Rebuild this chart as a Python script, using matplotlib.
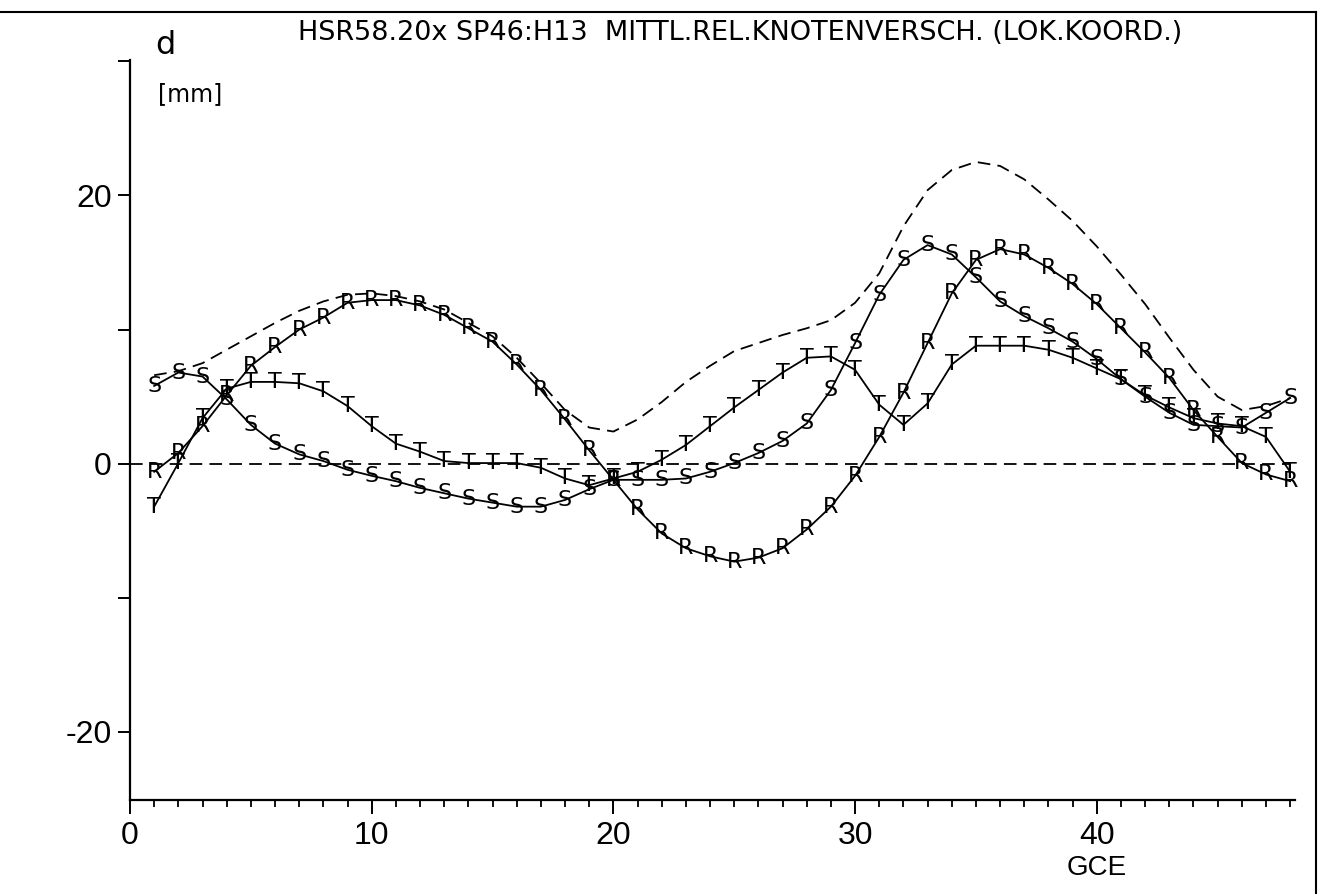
import numpy as np
import matplotlib.pyplot as plt
from matplotlib.lines import Line2D
from matplotlib.ticker import MultipleLocator, FixedLocator

plt.rcParams["axes.unicode_minus"] = False

# GCE-Nummer (Knoten)
gce = list(range(1, 49))

# Verschiebungen R, S, T [mm]
r_vals = [-0.6, 0.8, 2.8, 5.1, 7.3, 8.7, 10.0, 10.9, 12.0, 12.2, 12.2, 11.8,
          11.1, 10.1, 9.1, 7.4, 5.5, 3.3, 1.0, -1.2, -3.4, -5.2, -6.3, -6.9,
          -7.3, -7.0, -6.3, -4.9, -3.2, -0.9, 2.0, 5.3, 9.0, 12.7, 15.2, 16.0,
          15.6, 14.6, 13.4, 11.9, 10.1, 8.3, 6.4, 4.0, 2.0, 0.05, -0.8, -1.3]
s_vals = [5.8, 6.8, 6.5, 4.8, 2.9, 1.5, 0.7, 0.2, -0.45, -0.9, -1.3, -1.8,
          -2.2, -2.6, -2.9, -3.2, -3.2, -2.7, -1.9, -1.2, -1.2, -1.2, -1.1, -0.6,
          0.05, 0.8, 1.7, 3.0, 5.5, 9.0, 12.6, 15.2, 16.3, 15.6, 13.9, 12.1,
          11.0, 10.1, 9.1, 7.8, 6.3, 5.0, 3.8, 2.9, 2.8, 2.7, 3.8, 4.9]
t_vals = [-3.2, 0.05, 3.4, 5.6, 6.1, 6.1, 6.0, 5.4, 4.3, 2.8, 1.5, 0.9,
          0.2, 0.05, 0.05, 0.05, -0.3, -1.1, -1.6, -1.1, -0.6, 0.3, 1.4, 2.8,
          4.2, 5.5, 6.8, 7.9, 8.0, 7.0, 4.4, 2.9, 4.5, 7.4, 8.8, 8.8,
          8.8, 8.5, 7.9, 7.1, 6.3, 5.1, 4.2, 3.4, 3.0, 2.8, 2.0, -0.6]
# Betrag (gestrichelte Huellkurve)
d_vals = [6.6, 6.9, 7.5, 8.5, 9.5, 10.5, 11.4, 12.1, 12.6, 12.7, 12.5, 12.1,
          11.5, 10.5, 9.5, 7.9, 6.0, 4.0, 2.7, 2.4, 3.3, 4.6, 6.1, 7.3,
          8.4, 9.0, 9.6, 10.1, 10.7, 12.0, 14.2, 17.7, 20.4, 21.9, 22.5, 22.2,
          21.2, 19.7, 18.1, 16.2, 14.1, 11.9, 9.4, 7.0, 5.0, 4.0, 4.3, 4.9]

series = [("R", r_vals), ("S", s_vals), ("T", t_vals)]

fig = plt.figure(figsize=(13.24, 8.94), dpi=100)
ax = fig.add_axes([130/1324, 1 - 800/894, 1165/1324, 740/894])

ax.set_xlim(0, 48.2)
ax.set_ylim(-25.07, 30.1)

# Nulllinie und Betrag
ax.plot([0, 48], [0, 0], color="black", lw=1.3, ls=(0, (7, 4)))
ax.plot(gce, d_vals, color="black", lw=1.3, ls=(0, (7, 4)))

for name, vals in series:
    ax.plot(gce, vals, color="black", lw=1.3)
    for x, y in zip(gce, vals):
        ax.text(x, y, name, ha="center", va="center", fontsize=16)

for side in ["top", "right"]:
    ax.spines[side].set_visible(False)
ax.spines["left"].set_linewidth(1.6)
ax.spines["bottom"].set_linewidth(1.6)

ax.xaxis.set_major_locator(FixedLocator([0, 10, 20, 30, 40]))
ax.xaxis.set_minor_locator(MultipleLocator(1))
ax.yaxis.set_major_locator(FixedLocator([-20, 0, 20]))
ax.yaxis.set_minor_locator(FixedLocator([-10, 10, 30]))
ax.tick_params(axis="x", which="major", direction="out", length=10, width=1.4,
               labelsize=23, pad=5)
ax.tick_params(axis="x", which="minor", direction="out", length=5, width=1.3)
ax.tick_params(axis="y", which="both", direction="out", length=9, width=1.4,
               labelsize=23, pad=4)
for lab in ax.get_xticklabels() + ax.get_yticklabels():
    lab.set_family(["Liberation Sans", "DejaVu Sans"])

fig.text(298/1324, 1 - 33/894,
         "HSR58.20x SP46:H13  MITTL.REL.KNOTENVERSCH. (LOK.KOORD.)",
         ha="left", va="center", fontsize=19.5)
fig.text(165/1324, 1 - 45/894, "d", ha="center", va="center", fontsize=23)
fig.text(190/1324, 1 - 94/894, "[mm]", ha="center", va="center", fontsize=17)
fig.text(1097/1324, 1 - 868/894, "GCE", ha="center", va="center", fontsize=20,
         family=["Liberation Sans", "DejaVu Sans"])

# Seitenrahmen
fig.add_artist(Line2D([0, 1316/1324], [1 - 12/894, 1 - 12/894],
                      transform=fig.transFigure, color="black", lw=1.5))
fig.add_artist(Line2D([1316/1324, 1316/1324], [0, 1 - 12/894],
                      transform=fig.transFigure, color="black", lw=1.5))

fig.savefig("out.png", dpi=100)
